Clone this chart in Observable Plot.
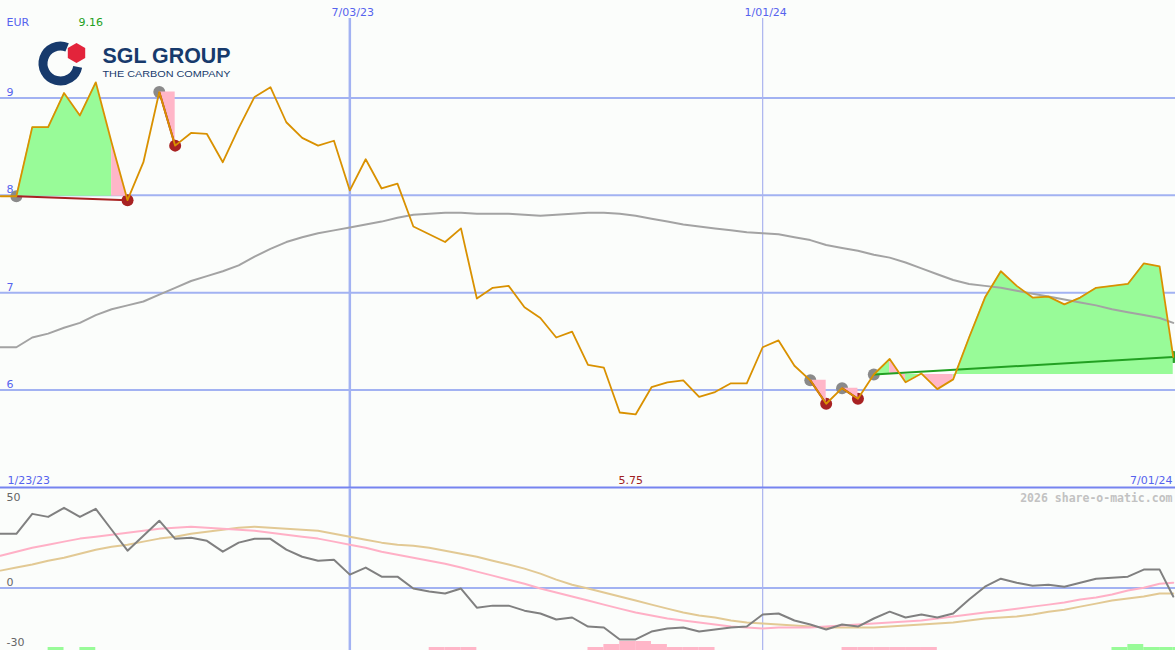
<!DOCTYPE html>
<html>
<head>
<meta charset="utf-8">
<script src="https://cdn.jsdelivr.net/npm/d3@7"></script>
<script src="https://cdn.jsdelivr.net/npm/@observablehq/plot@0.6"></script>
<style>
  html, body { margin: 0; padding: 0; background: #fbfdfb; }
  #chart { position: relative; width: 1175px; height: 650px; overflow: hidden; background: #fbfdfb; }
  #chart > svg { position: absolute; left: 0; display: block; }
</style>
</head>
<body>
<div id="chart"></div>
<script>
// ---------------- data ----------------
const currency = "EUR";
const startLabel = "1/23/23";
const endLabel = "7/01/24";
const credit = "2026 share-o-matic.com";
const companyName = "SGL GROUP";
const companyTagline = "THE CARBON COMPANY";

const vlineDates = ["2023-07-03", "2024-01-01"];
const vlineLabels = ["7/03/23", "1/01/24"];
const priceTicks = [6, 7, 8, 9];
const oscTicks = [50, 0, -30];

// weekly closes (EUR)
const close = [
  7.99, 7.99, 8.70, 8.70, 9.05, 8.82, 9.16, 8.54, 7.95, 8.34,
  9.06, 8.51, 8.64, 8.63, 8.34, 8.69, 9.01, 9.11, 8.75, 8.59,
  8.51, 8.56, 8.05, 8.37, 8.07, 8.12, 7.68, 7.60, 7.52, 7.66,
  6.94, 7.05, 7.07, 6.85, 6.74, 6.54, 6.60, 6.26, 6.23, 5.77,
  5.75, 6.03, 6.08, 6.10, 5.93, 5.98, 6.07, 6.07, 6.44, 6.51,
  6.25, 6.10, 5.86, 6.02, 5.91, 6.16, 6.32, 6.08, 6.17, 6.01,
  6.11, 6.54, 6.95, 7.22, 7.07, 6.95, 6.96, 6.88, 6.95, 7.05,
  7.07, 7.09, 7.30, 7.27, 6.34
];
// long moving average (grey)
const movingAvg = [
  6.44, 6.44, 6.54, 6.58, 6.64, 6.69, 6.77, 6.83, 6.87, 6.91,
  6.98, 7.05, 7.12, 7.17, 7.22, 7.28, 7.37, 7.45, 7.52, 7.57,
  7.61, 7.64, 7.67, 7.70, 7.73, 7.77, 7.80, 7.81, 7.82, 7.82,
  7.81, 7.81, 7.81, 7.80, 7.79, 7.80, 7.81, 7.82, 7.82, 7.81,
  7.79, 7.76, 7.73, 7.70, 7.68, 7.66, 7.64, 7.62, 7.61, 7.60,
  7.57, 7.54, 7.49, 7.46, 7.43, 7.39, 7.36, 7.31, 7.25, 7.19,
  7.13, 7.09, 7.07, 7.05, 7.02, 6.99, 6.96, 6.93, 6.90, 6.87,
  6.83, 6.80, 6.77, 6.74, 6.69
];
// signals: start (grey dot), end (red = loss, green = gain)
const signalStart = [1, 10, 51, 53, 55];
const signalEnd = [8, 11, 52, 54, 74];
const signalGain = [false, false, false, false, true];

// lower panel
const momentum = [
  27.0, 27.0, 36.9, 35.4, 39.9, 35.4, 39.4, 29.0, 18.6, 26.0,
  33.5, 24.5, 25.0, 23.5, 18.1, 22.6, 24.5, 24.5, 19.1, 15.6,
  13.6, 14.1, 6.7, 10.2, 5.7, 5.7, -0.2, -1.7, -2.7, -0.2,
  -9.7, -8.7, -8.7, -11.2, -12.6, -15.6, -14.6, -19.1, -19.6, -25.5,
  -25.5, -21.6, -20.1, -19.6, -21.6, -20.6, -19.6, -19.1, -13.1, -12.6,
  -16.1, -18.1, -20.6, -18.1, -19.1, -15.1, -11.7, -14.6, -13.1, -14.6,
  -12.6, -5.7, 0.7, 4.7, 2.7, 1.2, 1.7, 0.7, 2.7, 4.7,
  5.2, 5.7, 9.2, 9.2, -4.2
];
const fastAvg = [
  16.1, 18.1, 20.1, 21.6, 23.1, 24.6, 25.5, 26.5, 27.5, 28.5,
  29.5, 30.0, 30.5, 30.0, 29.5, 29.0, 28.5, 27.5, 26.5, 25.5,
  24.6, 23.1, 21.6, 20.1, 18.1, 16.6, 15.1, 13.6, 12.1, 10.2,
  8.2, 6.2, 4.2, 2.2, -0.2, -2.2, -4.2, -6.2, -8.2, -10.2,
  -12.1, -13.6, -15.1, -16.1, -17.1, -18.1, -19.1, -19.6, -20.1, -19.6,
  -19.6, -19.6, -19.1, -18.6, -18.1, -17.6, -17.1, -16.6, -16.1, -15.1,
  -14.1, -13.1, -12.1, -11.2, -10.2, -9.2, -8.2, -7.2, -5.7, -4.7,
  -3.2, -1.2, 0.2, 2.2, 2.7
];
const slowAvg = [
  8.7, 10.2, 11.7, 13.6, 15.1, 17.1, 19.1, 20.6, 21.6, 23.1,
  24.6, 25.5, 27.0, 28.0, 29.0, 30.0, 30.5, 30.0, 29.5, 29.0,
  28.5, 27.0, 25.5, 24.0, 22.6, 21.6, 21.1, 20.1, 18.6, 17.1,
  15.6, 13.6, 11.7, 9.7, 7.2, 4.2, 1.7, -0.2, -2.2, -4.2,
  -6.2, -8.2, -10.2, -12.1, -13.6, -14.6, -16.1, -17.1, -17.6, -18.1,
  -18.6, -19.1, -19.6, -19.6, -19.6, -19.6, -19.1, -18.6, -18.1, -17.6,
  -17.1, -16.1, -15.1, -14.6, -14.1, -13.1, -11.7, -10.7, -9.2, -7.7,
  -6.2, -5.2, -4.2, -2.7, -2.7
];
// strength bars at the bottom (+ green, - pink)
const barLevel = [
  0, 0, 0, 1, 0, 1, 0, 0, 0, 0,
  0, 0, 0, 0, 0, 0, 0, 0, 0, 0,
  0, 0, 0, 0, 0, 0, 0, -1, -1, -1,
  0, 0, 0, 0, 0, 0, 0, -1, -2, -3,
  -3, -2, -1, -1, -1, 0, 0, 0, 0, 0,
  0, 0, 0, -1, -1, -1, -1, -1, -1, 0,
  0, 0, 0, 0, 0, 0, 0, 0, 0, 0,
  1, 2, 1, 1, 1
];

// weekly dates: Mondays from 30 Jan 2023, last (partial) week 30 Jun 2024
const dates = [...d3.utcMonday.range(new Date("2023-01-30"), new Date("2024-06-25")), new Date("2024-06-30")];
const xDomain = [new Date("2023-01-30"), new Date("2024-07-01")];

// ---------------- styles ----------------
const W = 1175;
const gridColor = "#a2b2f2";
const sepColor = "#7684f0";
const labelBlue = "#5663ee";
const orange = "#d99100";
const green = "#98fb98";
const pink = "#ffb6c8";
const font = "DejaVu Sans, sans-serif";

// ---------------- derived tables ----------------
const rows = dates.map((d, i) => ({date: d, close: close[i], ma: movingAvg[i], mom: momentum[i], fast: fastAvg[i], slow: slowAvg[i], level: barLevel[i], next: dates[i + 1] ?? xDomain[1]}));

// fill between price and the signal's start level, one polygon per run of same colour
const fillRows = [];
let run = 0;
signalStart.forEach((s, j) => {
  const L = close[s];
  let prevUp = null;
  for (let k = s; k < signalEnd[j]; k++) {
    const up = close[k + 1] >= L;
    if (up !== prevUp) {
      run++;
      fillRows.push({seg: run, date: dates[k], lo: L, hi: close[k], up});
      prevUp = up;
    }
    fillRows.push({seg: run, date: dates[k + 1], lo: L, hi: close[k + 1], up});
  }
});
const signals = signalStart.map((s, j) => ({
  d1: dates[s], v1: close[s], d2: dates[signalEnd[j]], v2: close[signalEnd[j]], gain: signalGain[j]
}));
const iMax = d3.maxIndex(close), iMin = d3.minIndex(close);
const fmt = d3.format(".2f");

// ---------------- main panel ----------------
const main = Plot.plot({
  width: W, height: 489,
  marginTop: 0, marginBottom: 2, marginLeft: 0, marginRight: 0,
  x: {type: "utc", domain: xDomain, axis: null},
  y: {domain: [5, 10], axis: null},
  style: {background: "transparent", overflow: "visible"},
  marks: [
    Plot.ruleY(priceTicks, {stroke: gridColor, strokeWidth: 2}),
    Plot.ruleX([vlineDates[0]], {x: d => new Date(d), stroke: gridColor, strokeWidth: 2.5, insetTop: 18}),
    Plot.ruleX([vlineDates[1]], {x: d => new Date(d), stroke: "#aab4ee", strokeWidth: 1.2, insetTop: 18}),
    Plot.ruleY([5], {stroke: sepColor, strokeWidth: 2}),
    // signal dots
    Plot.dot(signals, {x: "d1", y: "v1", r: 6, fill: "#8a8a8a"}),
    Plot.dot(signals, {x: "d2", y: "v2", r: 6, fill: d => d.gain ? "#2ea02e" : "#a82222"}),
    // signal fills
    Plot.areaY(fillRows.filter(d => d.up), {x: "date", y1: "lo", y2: "hi", z: "seg", fill: green}),
    Plot.areaY(fillRows.filter(d => !d.up), {x: "date", y1: "lo", y2: "hi", z: "seg", fill: pink}),
    // moving average
    Plot.line(rows, {x: "date", y: "ma", stroke: "#a3a3a3", strokeWidth: 2}),
    // trend lines between signals
    Plot.link(signals, {x1: "d1", y1: "v1", x2: "d2", y2: "v2", stroke: d => d.gain ? "#22a022" : "#a82222", strokeWidth: 2}),
    // price
    Plot.line(rows, {x: "date", y: "close", stroke: orange, strokeWidth: 1.8}),
    // labels
    Plot.text(priceTicks, {y: d => d, frameAnchor: "left", dx: 6, dy: -2, lineAnchor: "bottom", textAnchor: "start", fill: labelBlue, fontSize: 11, fontFamily: font}),
    Plot.text([currency], {frameAnchor: "top-left", dx: 6, dy: 25.5, lineAnchor: "bottom", textAnchor: "start", fill: labelBlue, fontSize: 11, fontFamily: font}),
    Plot.text([iMax], {x: i => dates[i], text: i => fmt(close[i]), frameAnchor: "top", dx: -5, dy: 25.5, lineAnchor: "bottom", fill: "#22a022", fontSize: 11, fontFamily: font}),
    Plot.text(vlineDates, {x: d => new Date(d), text: (d, i) => vlineLabels[i], frameAnchor: "top", dx: 3, dy: 15, lineAnchor: "bottom", fill: labelBlue, fontSize: 11, fontFamily: font}),
    Plot.text([startLabel], {frameAnchor: "bottom-left", dx: 7, dy: -4, lineAnchor: "bottom", textAnchor: "start", fill: labelBlue, fontSize: 11, fontFamily: font}),
    Plot.text([endLabel], {frameAnchor: "bottom-right", dx: -3, dy: -4, lineAnchor: "bottom", textAnchor: "end", fill: labelBlue, fontSize: 11, fontFamily: font}),
    Plot.text([iMin], {x: i => dates[i], text: i => fmt(close[i]), frameAnchor: "bottom", dx: -5, dy: -4, lineAnchor: "bottom", fill: "#a02020", fontSize: 11, fontFamily: font})
  ]
});
main.style.top = "0px";

// ---------------- lower panel ----------------
const lower = Plot.plot({
  width: W, height: 163,
  marginTop: 0, marginBottom: 0, marginLeft: 0, marginRight: 0,
  x: {type: "utc", domain: xDomain, axis: null},
  y: {domain: [-31, 50], axis: null},
  style: {background: "transparent", overflow: "visible"},
  marks: [
    Plot.ruleY([0], {stroke: gridColor, strokeWidth: 2}),
    Plot.ruleX([vlineDates[0]], {x: d => new Date(d), stroke: gridColor, strokeWidth: 2.5, insetTop: 1}),
    Plot.ruleX([vlineDates[1]], {x: d => new Date(d), stroke: "#aab4ee", strokeWidth: 1.2, insetTop: 1}),
    Plot.rect(rows.filter(d => d.level !== 0), {x1: "date", x2: "next", y1: -31, y2: d => -31 + 1.49 * Math.abs(d.level), fill: d => d.level > 0 ? green : pink}),
    Plot.line(rows, {x: "date", y: "slow", stroke: "#e2c994", strokeWidth: 2}),
    Plot.line(rows, {x: "date", y: "fast", stroke: "#ffb0c6", strokeWidth: 2}),
    Plot.line(rows, {x: "date", y: "mom", stroke: "#808080", strokeWidth: 2}),
    Plot.text([oscTicks[0]], {y: d => d, frameAnchor: "left", dx: 6, dy: 13.5, lineAnchor: "bottom", textAnchor: "start", fill: "#666", fontSize: 11, fontFamily: font}),
    Plot.text(oscTicks.slice(1), {y: d => d, frameAnchor: "left", dx: 6, dy: -2, lineAnchor: "bottom", textAnchor: "start", fill: "#666", fontSize: 11, fontFamily: font}),
    Plot.text([credit], {frameAnchor: "top-right", dx: -3, dy: 14, lineAnchor: "bottom", textAnchor: "end", fill: "#c2c2c2", fontSize: 11.5, fontWeight: "bold", fontFamily: "DejaVu Sans Mono, monospace"})
  ]
});
lower.style.top = "487px";

const chart = document.getElementById("chart");
chart.appendChild(main);
chart.appendChild(lower);

// ---------------- logo ----------------
const ns = "http://www.w3.org/2000/svg";
const logo = document.createElementNS(ns, "svg");
logo.setAttribute("width", 240);
logo.setAttribute("height", 90);
logo.style.top = "0px";
logo.innerHTML = `
  <path d="M 77.7 66.8 A 17.5 17.5 0 1 1 67.1 47.3" fill="none" stroke="#173a6c" stroke-width="9"/>
  <polygon points="76.5,43 85.2,48 85.2,58 76.5,63 67.8,58 67.8,48" fill="#e3243b"/>
  <text x="102.5" y="62.6" font-family="Liberation Sans, sans-serif" font-weight="700" font-size="22.5" fill="#173a6c" textLength="128" lengthAdjust="spacingAndGlyphs">${companyName}</text>
  <text x="102.5" y="77.2" font-family="Liberation Sans, sans-serif" font-weight="400" font-size="9.8" fill="#173a6c" textLength="128" lengthAdjust="spacingAndGlyphs">${companyTagline}</text>
`;
chart.appendChild(logo);
</script>
</body>
</html>
